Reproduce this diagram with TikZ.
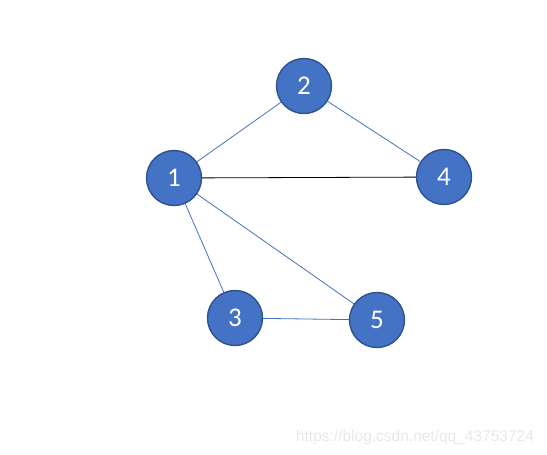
\documentclass[tikz,border=0pt]{standalone}
\usepackage{fontspec}
\setmainfont{Carlito}
\newfontfamily\markfont{Liberation Sans}
\usetikzlibrary{positioning}

\definecolor{nodeblue}{RGB}{68,114,196}
\definecolor{rimblue}{RGB}{47,82,143}

\begin{document}
\begin{tikzpicture}[
        x=1pt, y=-1pt,
        vertex/.style={circle, draw=rimblue, fill=nodeblue, line width=1.4pt,
                       minimum size=55pt, inner sep=0pt, text=white, font=\fontsize{27}{27}\selectfont},
        edge/.style={draw=nodeblue, line width=0.8pt},
        plain/.style={draw=black, line width=0.8pt},
    ]
        \useasboundingbox (0,0) rectangle (547,455);

        \node[vertex] (v1) at (174,178) {1};
        \node[vertex] (v2) at (304,86)  {2};
        \node[vertex] (v3) at (235,318) {3};
        \node[vertex] (v4) at (444,177) {4};
        \node[vertex] (v5) at (377,320) {5};

        \node[text=black!9, font=\markfont\fontsize{15.5}{15.5}\selectfont] (mark) at (415,437) {https://blog.csdn.net/qq\_43753724};

        \draw[edge] (v1) -- (v2);
        \draw[edge] (v2) -- (v4);
        \draw[plain] (v1) -- (v4);
        \draw[edge] (v1) -- (v3);
        \draw[edge] (v1) -- (v5);
        \draw[edge] (v3) -- (v5);
    \end{tikzpicture}
\end{document}
